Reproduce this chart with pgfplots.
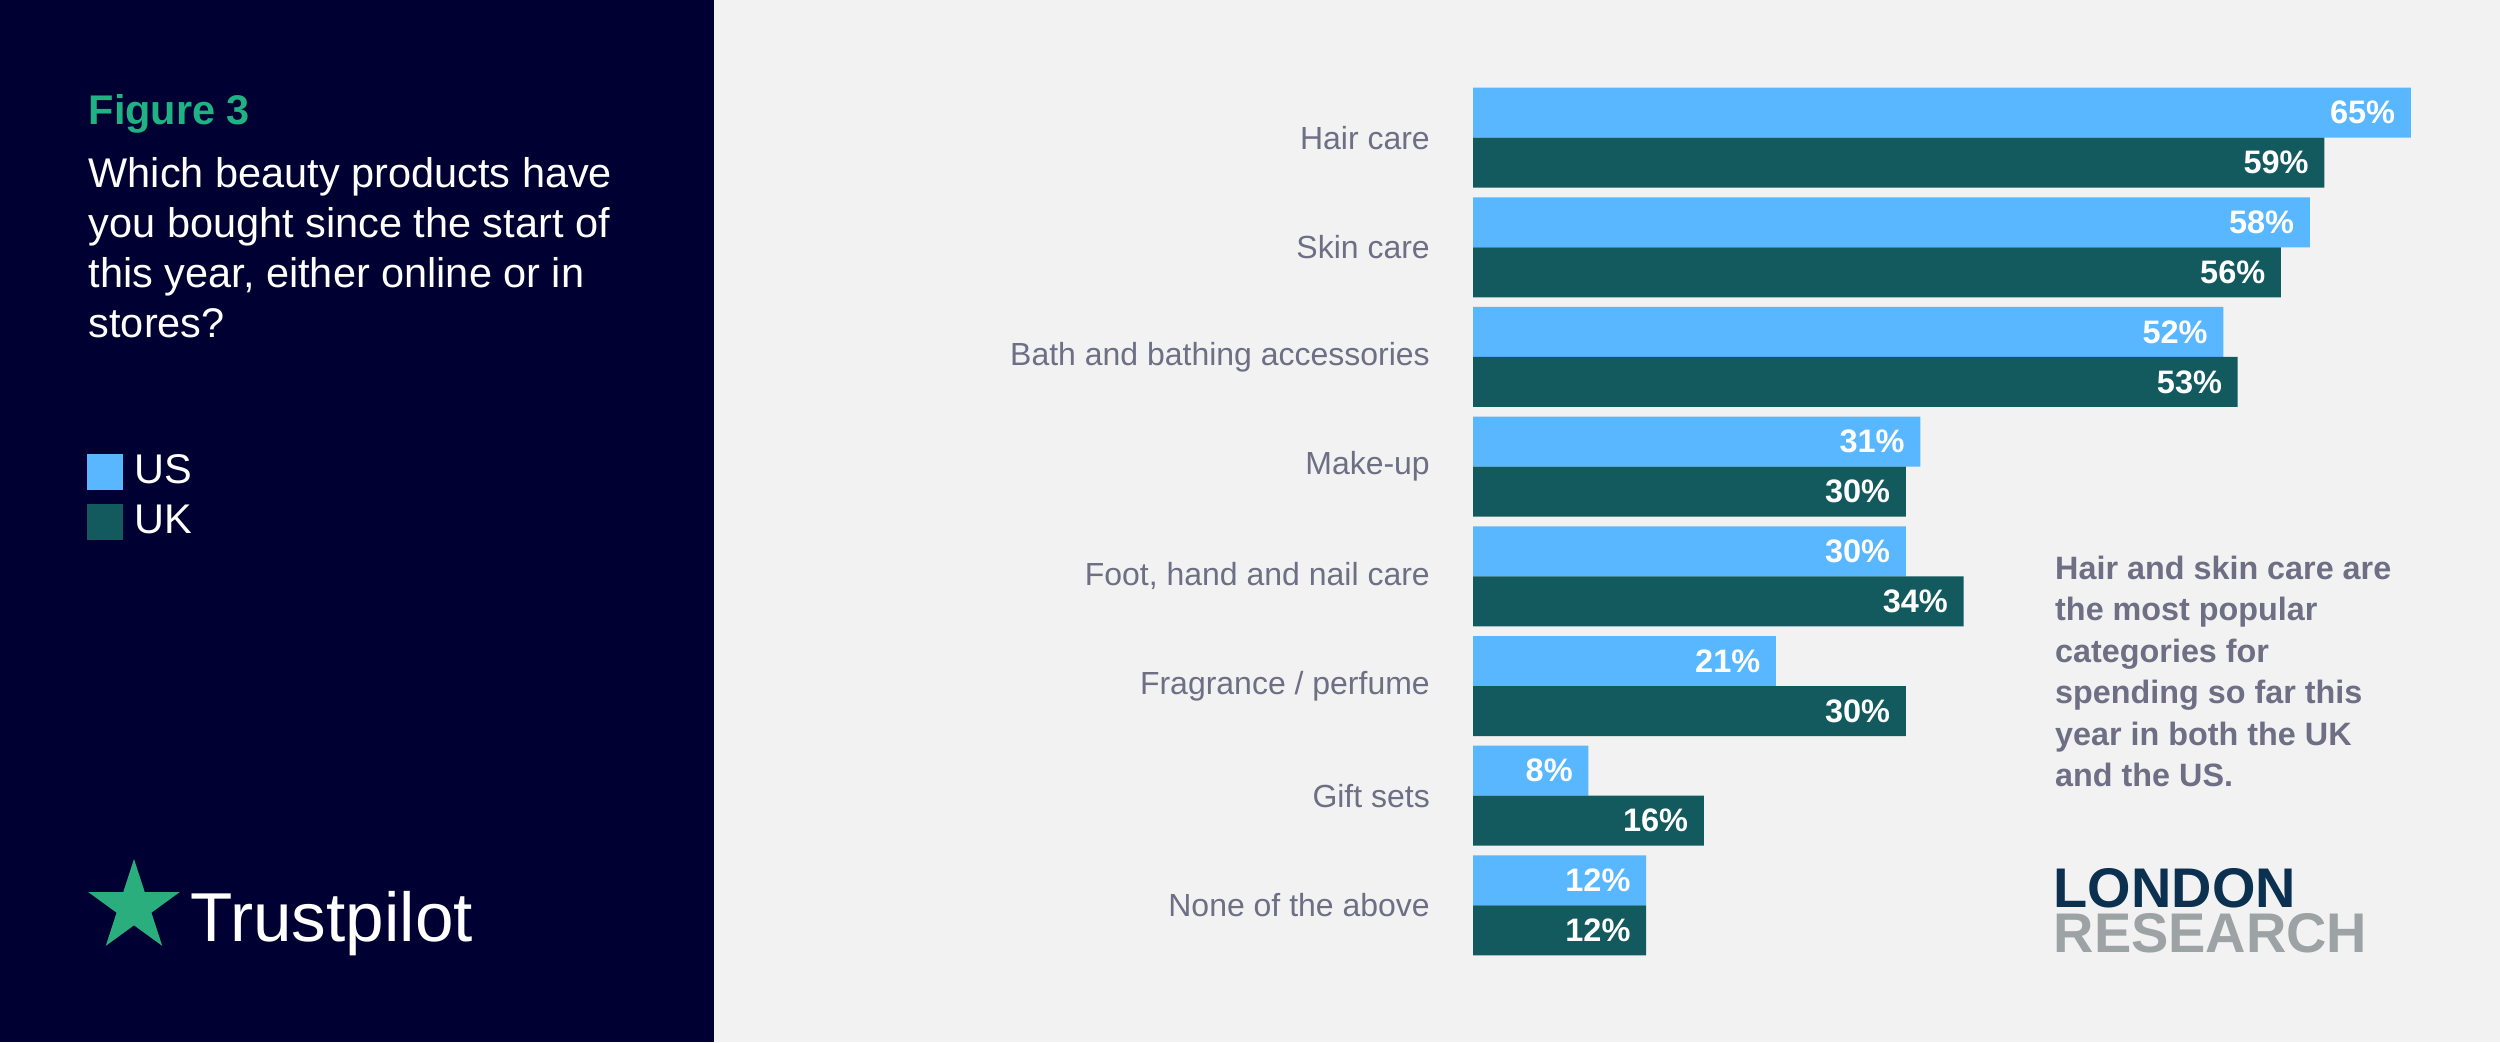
\documentclass[border=0pt]{standalone}
\usepackage{fontspec}
\setmainfont{Liberation Sans}
\usepackage{pgfplots}
\pgfplotsset{compat=1.18}
\usetikzlibrary{shapes.geometric}
\definecolor{panel}{HTML}{000032}
\definecolor{pagebg}{HTML}{F2F2F2}
\definecolor{usblue}{HTML}{58B7FF}
\definecolor{ukteal}{HTML}{135A5F}
\definecolor{figgreen}{HTML}{1FB383}
\definecolor{stargreen}{HTML}{2BAE7D}
\definecolor{labelgrey}{HTML}{6E6E85}
\definecolor{londonblue}{HTML}{0C3050}
\definecolor{researchgrey}{HTML}{9DA2A5}
\newcommand{\fs}[2]{\fontsize{#1}{#2}\selectfont}

\begin{document}
\begin{tikzpicture}
% backgrounds
\fill[pagebg] (0,0) rectangle (25,10.42);
\fill[panel] (0,0) rectangle (7.14,10.42);

% left panel text
\node[anchor=base west, inner sep=0pt, text=figgreen, font=\bfseries\fs{11.8pt}{14pt}] at (0.88,9.17) {Figure 3};
\begin{scope}[every node/.style={anchor=base west, inner sep=0pt, text=white, font=\fs{11.8pt}{14pt}}]
\node at (0.88,8.545) {Which beauty products have};
\node at (0.88,8.045) {you bought since the start of};
\node at (0.88,7.545) {this year, either online or in};
\node at (0.88,7.045) {stores?};
\end{scope}

% trustpilot
\node[star, star points=5, star point ratio=2.618, fill=stargreen, inner sep=0pt, minimum size=0.96cm] at (1.34,1.35) {};
\node[anchor=base west, inner sep=0pt, text=white, font=\fs{19.7pt}{22pt}] at (1.90,1.00) {Trustpilot};

% annotation
\begin{scope}[every node/.style={anchor=base west, inner sep=0pt, text=labelgrey, font=\bfseries\fs{9.2pt}{11pt}}]
\node at (20.545,4.627) {Hair and skin care are};
\node at (20.545,4.212) {the most popular};
\node at (20.545,3.797) {categories for};
\node at (20.545,3.382) {spending so far this};
\node at (20.545,2.967) {year in both the UK};
\node at (20.545,2.552) {and the US.};
\end{scope}

% london research
\node[anchor=north west, inner sep=0pt, align=left, font=\bfseries\fs{15.9pt}{12.8pt}] at (20.53,1.74)
  {\textcolor{londonblue}{LONDON}\\\textcolor{researchgrey}{RESEARCH}};

\begin{axis}[
  at={(14.73cm,0.8175cm)}, anchor=south west,
  width=10.10cm, height=8.775cm, scale only axis,
  xbar=0pt, bar width=5mm,
  xmin=0, xmax=70, ymin=-0.5, ymax=7.5,
  axis line style={draw=none}, tick style={draw=none},
  xtick=\empty, ytick={0,...,7},
  yticklabels={None of the above, Gift sets, Fragrance / perfume, {Foot, hand and nail care}, Make-up, Bath and bathing accessories, Skin care, Hair care},
  yticklabel style={font=\fs{9.1pt}{11pt}, text=labelgrey, anchor=east, inner sep=0pt, xshift=-0.275cm},
  point meta=x,
  /pgf/number format/assume math mode=true,
  nodes near coords={\pgfmathprintnumber{\pgfplotspointmeta}\%},
  every node near coord/.append style={anchor=east, xshift=-0.15cm, inner sep=0pt, text=white, font=\bfseries\fs{9.25pt}{11pt}},
  legend style={at={(-1.3723,0.5769)}, anchor=north west, draw=none, fill=none, inner sep=0pt, outer sep=0pt,
    row sep=0.14cm, column sep=0.115cm, font=\fs{11.8pt}{14pt}, text=white, nodes={inner sep=0pt}},
  legend cell align=left,
]
\addplot[fill=usblue, draw=none, bar shift=2.5mm,
  legend image code/.code={\fill[usblue] (0cm,-0.18cm) rectangle (0.36cm,0.18cm);}]
  coordinates {(12,0) (8,1) (21,2) (30,3) (31,4) (52,5) (58,6) (65,7)};
\addlegendentry{US}
\addplot[fill=ukteal, draw=none, bar shift=-2.5mm,
  legend image code/.code={\fill[ukteal] (0cm,-0.18cm) rectangle (0.36cm,0.18cm);}]
  coordinates {(12,0) (16,1) (30,2) (34,3) (30,4) (53,5) (56,6) (59,7)};
\addlegendentry{UK}
\end{axis}
\end{tikzpicture}
\end{document}
